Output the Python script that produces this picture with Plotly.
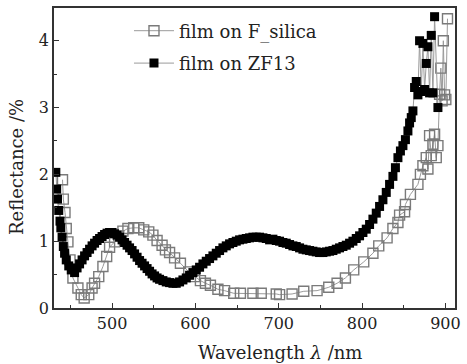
import plotly.graph_objects as go

silica_x = [440.5, 441.5, 443.5, 445, 447, 449.5, 453, 459, 463, 466.5, 472, 476, 479, 484, 489, 493.5, 497,
            503, 508, 513, 519, 526, 532, 538, 544, 549, 554, 560, 564, 569, 575, 582, 592, 599, 606, 612,
            618, 627, 635, 646, 654, 669, 679, 697, 701, 716, 730, 746, 760, 770, 780, 790, 802, 813, 820,
            830, 837, 843, 845, 851, 852, 858, 867, 870, 873, 877, 879, 881, 883, 885, 887, 889, 891, 893,
            894.5, 896, 897.5, 899, 900.5, 902.5]
silica_y = [1.92, 1.63, 1.43, 1.19, 0.99, 0.72, 0.45, 0.30, 0.20, 0.15, 0.20, 0.30, 0.37, 0.47, 0.62, 0.77, 0.91,
            0.99, 1.08, 1.15, 1.19, 1.20, 1.20, 1.17, 1.14, 1.09, 1.01, 0.94, 0.87, 0.83, 0.75, 0.67, 0.54, 0.47,
            0.41, 0.37, 0.34, 0.28, 0.26, 0.22, 0.22, 0.22, 0.22, 0.21, 0.20, 0.21, 0.25, 0.26, 0.31, 0.37, 0.45,
            0.57, 0.69, 0.82, 0.93, 1.05, 1.19, 1.28, 1.39, 1.44, 1.55, 1.70, 1.85, 2.00, 2.13, 2.25, 2.08, 2.58,
            2.28, 2.45, 2.60, 2.25, 2.43, 3.20, 3.59, 3.10, 4.00, 3.19, 3.12, 4.33]

zf13_x = [432.5, 433.5, 434.5, 436, 437.5, 438.5, 440, 441.5, 443, 445, 448, 451, 455, 458, 461, 464, 467, 470,
          473, 476, 479, 482, 485, 488, 491, 494, 497, 500, 503, 506, 509, 512, 515, 518, 521, 524, 527, 530,
          533, 536, 539, 542, 545, 548, 551, 554, 557, 561, 565, 569, 573, 577, 581, 585, 589, 593, 597, 601,
          605, 609, 613, 617, 621, 625, 629, 633, 637, 641, 645, 649, 653, 657, 661, 665, 669, 673, 677, 681,
          685, 689, 693, 697, 701, 705, 709, 713, 717, 721, 725, 729, 733, 737, 741, 745, 749, 753, 757, 761,
          765, 769, 773, 777, 781, 785, 789, 793, 797, 801, 805, 809, 813, 817, 821, 825, 829, 833, 837, 840,
          843, 846, 849, 852, 855, 857, 859, 861, 863, 865, 867, 869, 871, 873, 875, 877, 879, 881, 883, 885,
          887, 891]
zf13_y = [2.03, 1.78, 1.63, 1.46, 1.30, 1.20, 1.06, 0.92, 0.82, 0.72, 0.63, 0.57, 0.53, 0.60, 0.66, 0.72, 0.78,
          0.83, 0.88, 0.93, 0.97, 1.01, 1.04, 1.07, 1.10, 1.12, 1.13, 1.13, 1.11, 1.09, 1.06, 1.02, 0.98, 0.94,
          0.90, 0.86, 0.81, 0.76, 0.71, 0.67, 0.63, 0.59, 0.55, 0.51, 0.48, 0.45, 0.43, 0.41, 0.39, 0.38, 0.37,
          0.37, 0.39, 0.42, 0.45, 0.49, 0.53, 0.57, 0.61, 0.66, 0.70, 0.74, 0.78, 0.82, 0.86, 0.90, 0.93, 0.96,
          0.98, 1.00, 1.02, 1.03, 1.04, 1.05, 1.06, 1.06, 1.06, 1.05, 1.04, 1.02, 1.03, 1.01, 1.00, 0.98, 0.97,
          0.95, 0.93, 0.92, 0.90, 0.88, 0.87, 0.86, 0.85, 0.84, 0.83, 0.83, 0.84, 0.85, 0.86, 0.88, 0.90, 0.92,
          0.94, 0.97, 1.00, 1.04, 1.08, 1.13, 1.18, 1.25, 1.33, 1.42, 1.52, 1.62, 1.73, 1.85, 1.97, 2.10, 2.25,
          2.35, 2.43, 2.52, 2.65, 2.77, 2.85, 2.95, 3.30, 3.39, 3.19, 4.00, 3.24, 3.96, 3.27, 3.66, 3.91, 3.22,
          4.08, 3.22, 4.36, 3.00]

x_title = "Wavelength <i>λ</i> /nm"
y_title = "Reflectance /%"

FONT = "DejaVu Serif"
TXT = "#222222"

fig = go.Figure()
fig.add_trace(go.Scatter(
    x=silica_x, y=silica_y, mode="lines+markers", name="film on F_silica", legendgroup="a",
    line=dict(color="#9a9a9a", width=1),
    marker=dict(symbol="square-open", size=10, color="#7a7a7a", line=dict(width=1.4, color="#7a7a7a")),
))
fig.add_trace(go.Scatter(
    x=zf13_x, y=zf13_y, mode="lines+markers", name="film on ZF13", legendgroup="b",
    line=dict(color="#9a9a9a", width=1),
    marker=dict(symbol="square", size=9, color="#000000", line=dict(width=0)),
))

axis_common = dict(
    showline=True, linecolor="#333333", linewidth=1.5, mirror=True,
    ticks="inside", ticklen=5, tickcolor="#333333", tickwidth=1,
    showgrid=False, zeroline=False,
    tickfont=dict(family=FONT, size=16, color=TXT),
)

fig.update_xaxes(
    range=[430.3, 911.5], tickvals=[500, 600, 700, 800, 900],
    minor=dict(tickvals=[450, 550, 650, 750, 850], ticks="inside", ticklen=3, tickcolor="#333333"),
    **axis_common,
)
fig.update_yaxes(
    range=[0, 4.49], tickvals=[0, 1, 2, 3, 4],
    minor=dict(tickvals=[0.5, 1.5, 2.5, 3.5], ticks="inside", ticklen=3, tickcolor="#333333"),
    **axis_common,
)

fig.add_annotation(text=x_title, xref="paper", yref="paper", x=0.563, y=0, yshift=-44,
                   xanchor="center", yanchor="middle", showarrow=False,
                   font=dict(family=FONT, size=18, color=TXT))
fig.add_annotation(text=y_title, xref="paper", yref="paper", x=0, y=0.47, xshift=-38,
                   xanchor="center", yanchor="middle", textangle=-90, showarrow=False,
                   font=dict(family=FONT, size=18, color=TXT))

fig.update_layout(
    width=467, height=364,
    margin=dict(l=54, r=8, t=6, b=56),
    paper_bgcolor="white", plot_bgcolor="white",
    showlegend=True,
    legend=dict(x=0.187, y=0.985, xanchor="left", yanchor="top", bgcolor="rgba(0,0,0,0)",
                font=dict(family=FONT, size=18, color=TXT), tracegroupgap=6, itemwidth=40),
)

fig.write_html("out.html", config={"displayModeBar": False},
               post_script="document.body.style.margin='0';document.body.style.padding='0';")
